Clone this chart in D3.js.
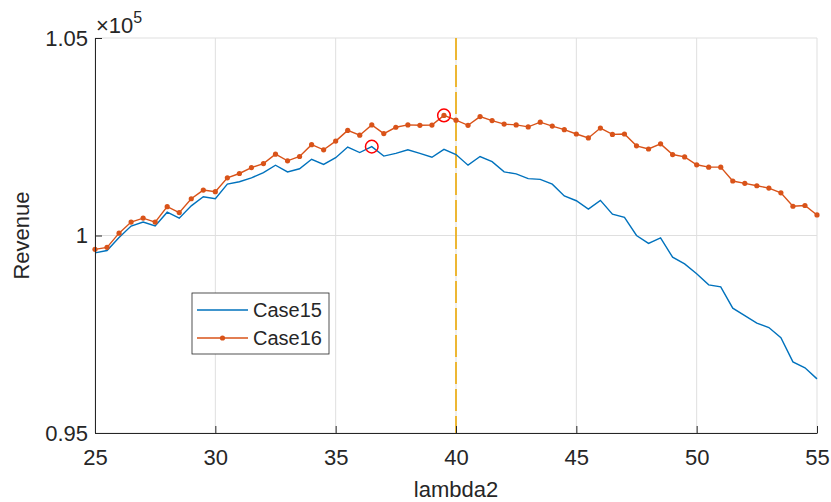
<!DOCTYPE html>
<html>
<head>
<meta charset="utf-8">
<script src="https://cdn.jsdelivr.net/npm/d3@7"></script>
<style>
  body { margin: 0; background: #fff; }
  text { font-family: "Liberation Sans", Arial, sans-serif; fill: #262626; }
</style>
</head>
<body>
<script>
// lambda2 grid (25 to 55 in steps of 0.5)
var lambda2 = [25, 25.5, 26, 26.5, 27, 27.5, 28, 28.5, 29, 29.5, 30, 30.5, 31, 31.5, 32, 32.5,
	33, 33.5, 34, 34.5, 35, 35.5, 36, 36.5, 37, 37.5, 38, 38.5, 39, 39.5, 40, 40.5,
	41, 41.5, 42, 42.5, 43, 43.5, 44, 44.5, 45, 45.5, 46, 46.5, 47, 47.5, 48, 48.5,
	49, 49.5, 50, 50.5, 51, 51.5, 52, 52.5, 53, 53.5, 54, 54.5, 55];

var case15 = [99560, 99620, 99950, 100240, 100340, 100240, 100590, 100440, 100750, 100980, 100930, 101300,
	101360, 101460, 101590, 101780, 101610, 101690, 101930, 101800, 101970, 102240, 102100, 102250,
	102010, 102080, 102170, 102080, 101980, 102180, 102050, 101780, 102000, 101870, 101610, 101560,
	101440, 101420, 101300, 101000, 100880, 100670, 100890, 100540, 100460, 100000, 99800, 99940,
	99450, 99280, 99030, 98750, 98700, 98160, 97970, 97780, 97670, 97410, 96800, 96650, 96370];

var case16 = [99650, 99700, 100060, 100340, 100440, 100340, 100730, 100580, 100930, 101150, 101110, 101460,
	101570, 101720, 101820, 102060, 101890, 102000, 102300, 102170, 102390, 102660, 102540, 102800,
	102580, 102740, 102800, 102790, 102795, 103040, 102920, 102790, 103010, 102910, 102820, 102800,
	102750, 102870, 102770, 102680, 102570, 102470, 102720, 102560, 102570, 102270, 102190, 102320,
	102050, 101990, 101790, 101730, 101730, 101380, 101320, 101260, 101200, 101080, 100740, 100760, 100520];

var seriesNames = ["Case15", "Case16"];
var xTicks = [25, 30, 35, 40, 45, 50, 55];
var yTicks = [95000, 100000, 105000];
var yTickLabels = ["0.95", "1", "1.05"];
var refLine = 40;

var W = 831, H = 502;
var margin = {top: 38, right: 14, bottom: 69, left: 95};
var width = W - margin.left - margin.right,
	height = H - margin.top - margin.bottom;

var svg = d3.select("body").append("svg")
	.attr("width", W)
	.attr("height", H);

var g = svg.append("g")
	.attr("transform", "translate(" + margin.left + "," + margin.top + ")");

var x = d3.scaleLinear().domain([25, 55]).range([0, width]);
var y = d3.scaleLinear().domain([95000, 105000]).range([height, 0]);

// grid
g.append("g").selectAll("line")
	.data(xTicks)
	.enter().append("line")
	.attr("x1", function(d) { return x(d); })
	.attr("x2", function(d) { return x(d); })
	.attr("y1", 0).attr("y2", height)
	.attr("stroke", "#dfdfdf").attr("stroke-width", 1);

g.append("g").selectAll("line")
	.data(yTicks)
	.enter().append("line")
	.attr("y1", function(d) { return y(d); })
	.attr("y2", function(d) { return y(d); })
	.attr("x1", 0).attr("x2", width)
	.attr("stroke", "#dfdfdf").attr("stroke-width", 1);

// reference line
g.append("line")
	.attr("x1", x(refLine)).attr("x2", x(refLine))
	.attr("y1", 0).attr("y2", height)
	.attr("stroke", "#EDB120")
	.attr("stroke-width", 1.8)
	.attr("stroke-dasharray", "22,5");

var line = d3.line()
	.x(function(d, i) { return x(lambda2[i]); })
	.y(function(d) { return y(d); });

g.append("path")
	.datum(case15)
	.attr("d", line)
	.attr("fill", "none")
	.attr("stroke", "#0072BD")
	.attr("stroke-width", 1.4);

g.append("path")
	.datum(case16)
	.attr("d", line)
	.attr("fill", "none")
	.attr("stroke", "#D95319")
	.attr("stroke-width", 1.4);

g.append("g").selectAll("circle")
	.data(case16)
	.enter().append("circle")
	.attr("cx", function(d, i) { return x(lambda2[i]); })
	.attr("cy", function(d) { return y(d); })
	.attr("r", 2.6)
	.attr("fill", "#D95319");

// maxima markers
[case15, case16].forEach(function(s) {
	var i = d3.maxIndex(s);
	g.append("circle")
		.attr("cx", x(lambda2[i]))
		.attr("cy", y(s[i]))
		.attr("r", 6.3)
		.attr("fill", "none")
		.attr("stroke", "#FF0000")
		.attr("stroke-width", 1.5);
});

// axes
var xAxis = d3.axisBottom(x).tickValues(xTicks).tickSizeInner(-7).tickSizeOuter(0).tickPadding(16);
var yAxis = d3.axisLeft(y).tickValues(yTicks).tickSizeInner(-7).tickSizeOuter(0).tickPadding(7)
	.tickFormat(function(d, i) { return yTickLabels[i]; });

var xa = g.append("g")
	.attr("transform", "translate(0," + height + ")")
	.call(xAxis);
var ya = g.append("g").call(yAxis);

[xa, ya].forEach(function(a) {
	a.select(".domain").attr("stroke", "#262626").attr("stroke-width", 1);
	a.selectAll(".tick line").attr("stroke", "#262626");
	a.selectAll(".tick text")
		.style("font-family", "'Liberation Sans', Arial, sans-serif")
		.style("font-size", "22px")
		.attr("fill", "#262626");
});

// exponent
var ex = g.append("text")
	.attr("x", 1).attr("y", -5)
	.style("font-size", "22px");
ex.append("tspan").text("\u00d710");
ex.append("tspan").attr("dy", -10).style("font-size", "16px").text("5");

// labels
svg.append("text")
	.attr("x", margin.left + width / 2)
	.attr("y", 497)
	.attr("text-anchor", "middle")
	.style("font-size", "22px")
	.text("lambda2");

svg.append("text")
	.attr("transform", "translate(29," + (margin.top + height / 2) + ") rotate(-90)")
	.attr("text-anchor", "middle")
	.style("font-size", "22px")
	.text("Revenue");

// legend
var lg = svg.append("g").attr("transform", "translate(192,293)");
lg.append("rect")
	.attr("width", 137).attr("height", 61)
	.attr("fill", "#fff")
	.attr("stroke", "#262626").attr("stroke-width", 0.8);

var colors = ["#0072BD", "#D95319"];
seriesNames.forEach(function(name, i) {
	var yy = 17 + i * 28;
	lg.append("line")
		.attr("x1", 5).attr("x2", 56)
		.attr("y1", yy).attr("y2", yy)
		.attr("stroke", colors[i]).attr("stroke-width", 1.4);
	if (i === 1) {
		lg.append("circle").attr("cx", 30.5).attr("cy", yy).attr("r", 2.6).attr("fill", colors[i]);
	}
	lg.append("text")
		.attr("x", 61).attr("y", yy)
		.attr("dy", "0.35em")
		.style("font-size", "20px")
		.text(name);
});
</script>
</body>
</html>
